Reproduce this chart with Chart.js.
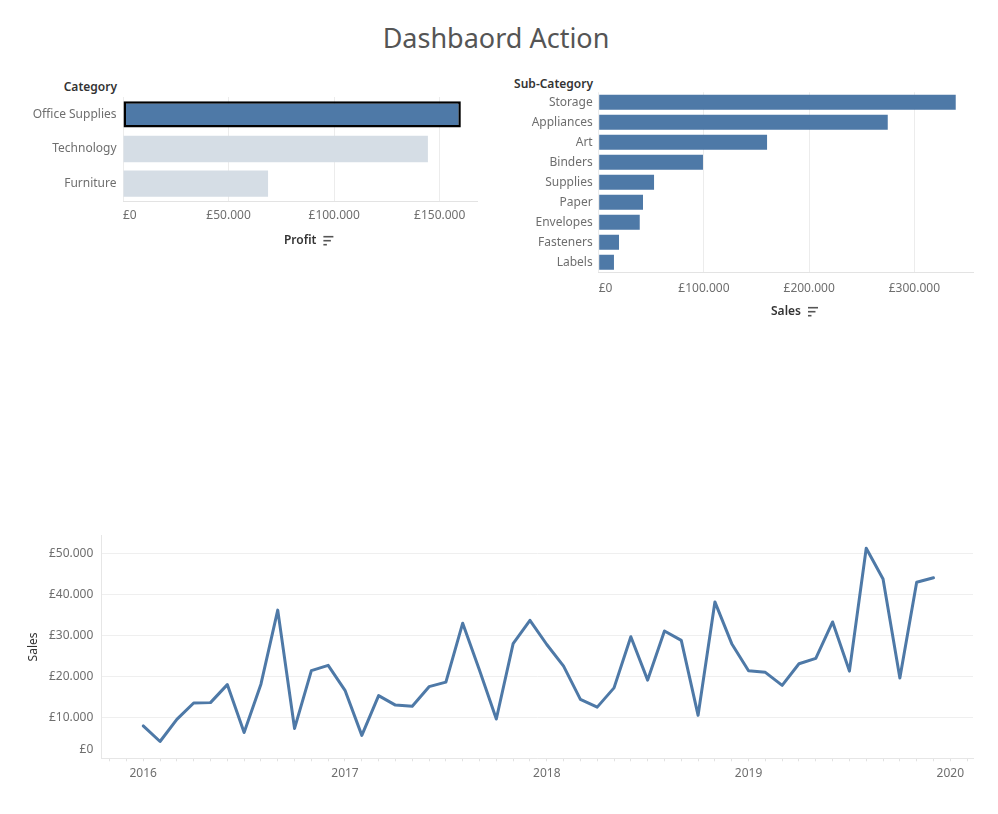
<!DOCTYPE html>
<html><head><meta charset="utf-8">
<script src="https://cdn.jsdelivr.net/npm/chart.js@4.4.0/dist/chart.umd.min.js"></script>
<style>
html,body{margin:0;padding:0;background:#fff;width:998px;height:814px;overflow:hidden;font-family:'Noto Sans',sans-serif;}
.box{position:absolute;}
#title{position:absolute;left:0;top:18px;width:992px;text-align:center;font-size:27px;line-height:40px;color:#555;}
.hdr{position:absolute;font-size:12px;line-height:14px;font-weight:600;color:#333;text-align:right;}
</style></head><body>
<div id="title">Dashbaord Action</div>
<div class="hdr" style="left:0;top:80px;width:117px;">Category</div>
<div class="hdr" style="left:490px;top:77px;width:103px;">Sub-Category</div>
<div class="box" style="left:0;top:60px;width:490px;height:200px;"><canvas id="c1"></canvas></div>
<div class="box" style="left:490px;top:60px;width:508px;height:270px;"><canvas id="c2"></canvas></div>
<div class="box" style="left:0;top:520px;width:998px;height:294px;"><canvas id="c3"></canvas></div>
<script>
const categories = ['Office Supplies','Technology','Furniture'];
const categoryProfit = [160000,144400,68700];
const selectedCategory = 'Office Supplies';

const subCategories = ['Storage','Appliances','Art','Binders','Supplies','Paper','Envelopes','Fasteners','Labels'];
const subCategorySales = [339300,274700,160000,99100,52600,42100,39000,19300,14500];

const months = [
  '2016-01','2016-02','2016-03','2016-04','2016-05','2016-06','2016-07','2016-08','2016-09','2016-10','2016-11','2016-12',
  '2017-01','2017-02','2017-03','2017-04','2017-05','2017-06','2017-07','2017-08','2017-09','2017-10','2017-11','2017-12',
  '2018-01','2018-02','2018-03','2018-04','2018-05','2018-06','2018-07','2018-08','2018-09','2018-10','2018-11','2018-12',
  '2019-01','2019-02','2019-03','2019-04','2019-05','2019-06','2019-07','2019-08','2019-09','2019-10','2019-11','2019-12'
];
const monthlySales = [
  7900,4100,9500,13500,13600,18000,6300,18100,36200,7300,21400,22700,
  16600,5600,15300,13000,12700,17500,18600,33000,21500,9600,28000,33700,
  27800,22500,14400,12500,17200,29700,19100,31100,28800,10500,38200,28000,
  21400,21000,17800,23100,24400,33300,21300,51300,43800,19600,43000,44100
];

const profitTicks = [0,50000,100000,150000];
const salesTicks = [0,100000,200000,300000];
const lineTicks = [0,10000,20000,30000,40000,50000];
const yearLabels = ['2016','2017','2018','2019','2020'];

const FAM = "'Noto Sans', sans-serif";
const BLUE = '#4e79a7';
const LIGHT = '#d5dde5';
const TICKC = '#6e6e6e';

function fmt(v){ return '£' + String(Math.round(v)).replace(/\B(?=(\d{3})+(?!\d))/g,'.'); }

const sortIcon = {
  id:'sortIcon',
  afterDraw(chart){
    const s = chart.scales.x; const t = s.options.title;
    if(!t.display) return;
    const ctx = chart.ctx;
    const f = Chart.helpers.toFont(t.font);
    const pad = Chart.helpers.toPadding(t.padding);
    ctx.save(); ctx.font = f.string;
    const w = ctx.measureText(t.text).width;
    const cx = (s.left+s.right)/2;
    const cy = s.bottom - pad.bottom - f.lineHeight/2;
    const x0 = cx + w/2 + 7;
    ctx.strokeStyle='#555'; ctx.lineWidth=1.6;
    [[10,-4],[7.5,0],[3.5,4]].forEach(([len,dy])=>{ctx.beginPath();ctx.moveTo(x0,cy+dy);ctx.lineTo(x0+len,cy+dy);ctx.stroke();});
    ctx.restore();
  }
};

// Keep the zero label inside the axis box, as the reference does
const zeroLabelFix = {
  id:'zeroLabelFix',
  beforeDraw(chart){
    Object.values(chart.scales).forEach(s=>{
      if(typeof s.getLabelItems !== 'function') return;
      const items = s.getLabelItems(chart.chartArea);
      items.forEach(it=>{
        if(it.label !== '£0' || it._fixed) return;
        it._fixed = true;
        if(s.isHorizontal()){
          it.options.textAlign = 'left';
          it.options.translation[0] = s.left;
        } else {
          it.options.translation[1] -= 9;
        }
      });
    });
  }
};

Chart.defaults.font.family = FAM;
Chart.defaults.font.size = 12;

new Chart(document.getElementById('c1'), {
  type:'bar',
  data:{ labels: categories, datasets:[{
    data: categoryProfit,
    backgroundColor: categories.map(c => c===selectedCategory ? BLUE : LIGHT),
    borderColor: categories.map(c => c===selectedCategory ? '#000' : 'rgba(0,0,0,0)'),
    borderWidth: categories.map(c => c===selectedCategory ? 2.5 : 0),
    borderSkipped:false,
    barPercentage:0.76, categoryPercentage:1
  }]},
  plugins:[sortIcon, zeroLabelFix],
  options:{
    indexAxis:'y', responsive:true, maintainAspectRatio:false, animation:false,
    layout:{padding:{left:0,right:12.7,top:37,bottom:0}},
    plugins:{legend:{display:false}, tooltip:{enabled:false}},
    scales:{
      x:{min:0,max:167800,
        afterBuildTicks:s=>{s.ticks = profitTicks.map(v=>({value:v}));},
        grid:{color:'#ececec',drawTicks:false},
        border:{display:true,color:'#e3e3e3'},
        ticks:{padding:7.8,color:TICKC,font:{size:12},callback:fmt,maxRotation:0},
        title:{display:true,text:'Profit',color:'#333',font:{size:12,weight:'600'},padding:{top:0,bottom:12.1}},
        afterFit:s=>{s.height=59;}
      },
      y:{grid:{display:false,drawTicks:false},border:{display:false},
        ticks:{padding:6.5,color:TICKC,font:{size:12}},
        afterFit:s=>{s.width=123;}
      }
    }
  }
});

new Chart(document.getElementById('c2'), {
  type:'bar',
  data:{ labels: subCategories, datasets:[{
    data: subCategorySales, backgroundColor: BLUE,
    barPercentage:0.75, categoryPercentage:1
  }]},
  plugins:[sortIcon, zeroLabelFix],
  options:{
    indexAxis:'y', responsive:true, maintainAspectRatio:false, animation:false,
    layout:{padding:{left:0,right:24.7,top:32.3,bottom:0}},
    plugins:{legend:{display:false}, tooltip:{enabled:false}},
    scales:{
      x:{min:0,max:356000,
        afterBuildTicks:s=>{s.ticks = salesTicks.map(v=>({value:v}));},
        grid:{color:'#ececec',drawTicks:false},
        border:{display:true,color:'#e3e3e3'},
        ticks:{padding:8.8,color:TICKC,font:{size:12},callback:fmt,maxRotation:0},
        title:{display:true,text:'Sales',color:'#333',font:{size:12,weight:'600'},padding:{top:0,bottom:11.1}},
        afterFit:s=>{s.height=57.7;}
      },
      y:{grid:{display:false,drawTicks:false},border:{display:false},
        ticks:{padding:6,color:TICKC,font:{size:12}},
        afterFit:s=>{s.width=108.7;}
      }
    }
  }
});

const linePoints = months.map((m,i)=>{
  const [yy,mm] = m.split('-').map(Number);
  return {x:(yy-2016)*12+(mm-1), y:monthlySales[i]};
});

new Chart(document.getElementById('c3'), {
  type:'line',
  data:{ datasets:[{
    data: linePoints, borderColor: BLUE, borderWidth:3, pointRadius:0, tension:0,
    borderJoinStyle:'round', borderCapStyle:'round', fill:false
  }]},
  plugins:[zeroLabelFix],
  options:{
    responsive:true, maintainAspectRatio:false, animation:false,
    layout:{padding:{left:0,right:25,top:13,bottom:0}},
    plugins:{legend:{display:false}, tooltip:{enabled:false}},
    scales:{
      x:{type:'linear',min:-2.47,max:49.35,
        afterBuildTicks:s=>{const t=[]; for(let i=-2;i<=49;i++) t.push({value:i}); s.ticks=t;},
        grid:{drawOnChartArea:false,drawTicks:true,tickLength:3,color:'#e2e2e2'},
        border:{display:true,color:'#e6e6e6'},
        ticks:{autoSkip:false,maxRotation:0,padding:4.8,color:TICKC,font:{size:12},
          callback:v=> (v>=0 && v%12===0) ? yearLabels[v/12] : ''},
        afterFit:s=>{s.height=55.7;}
      },
      y:{min:0,max:54400,
        afterBuildTicks:s=>{s.ticks = lineTicks.map(v=>({value:v}));},
        grid:{color:'#efefef',drawTicks:false},
        border:{display:true,color:'#e6e6e6'},
        ticks:{padding:8.4,color:TICKC,font:{size:12},callback:fmt},
        title:{display:true,text:'Sales',color:'#333',font:{size:12},padding:{top:26.8,bottom:0}},
        afterFit:s=>{s.width=101.7;}
      }
    }
  }
});
</script>
</body></html>
